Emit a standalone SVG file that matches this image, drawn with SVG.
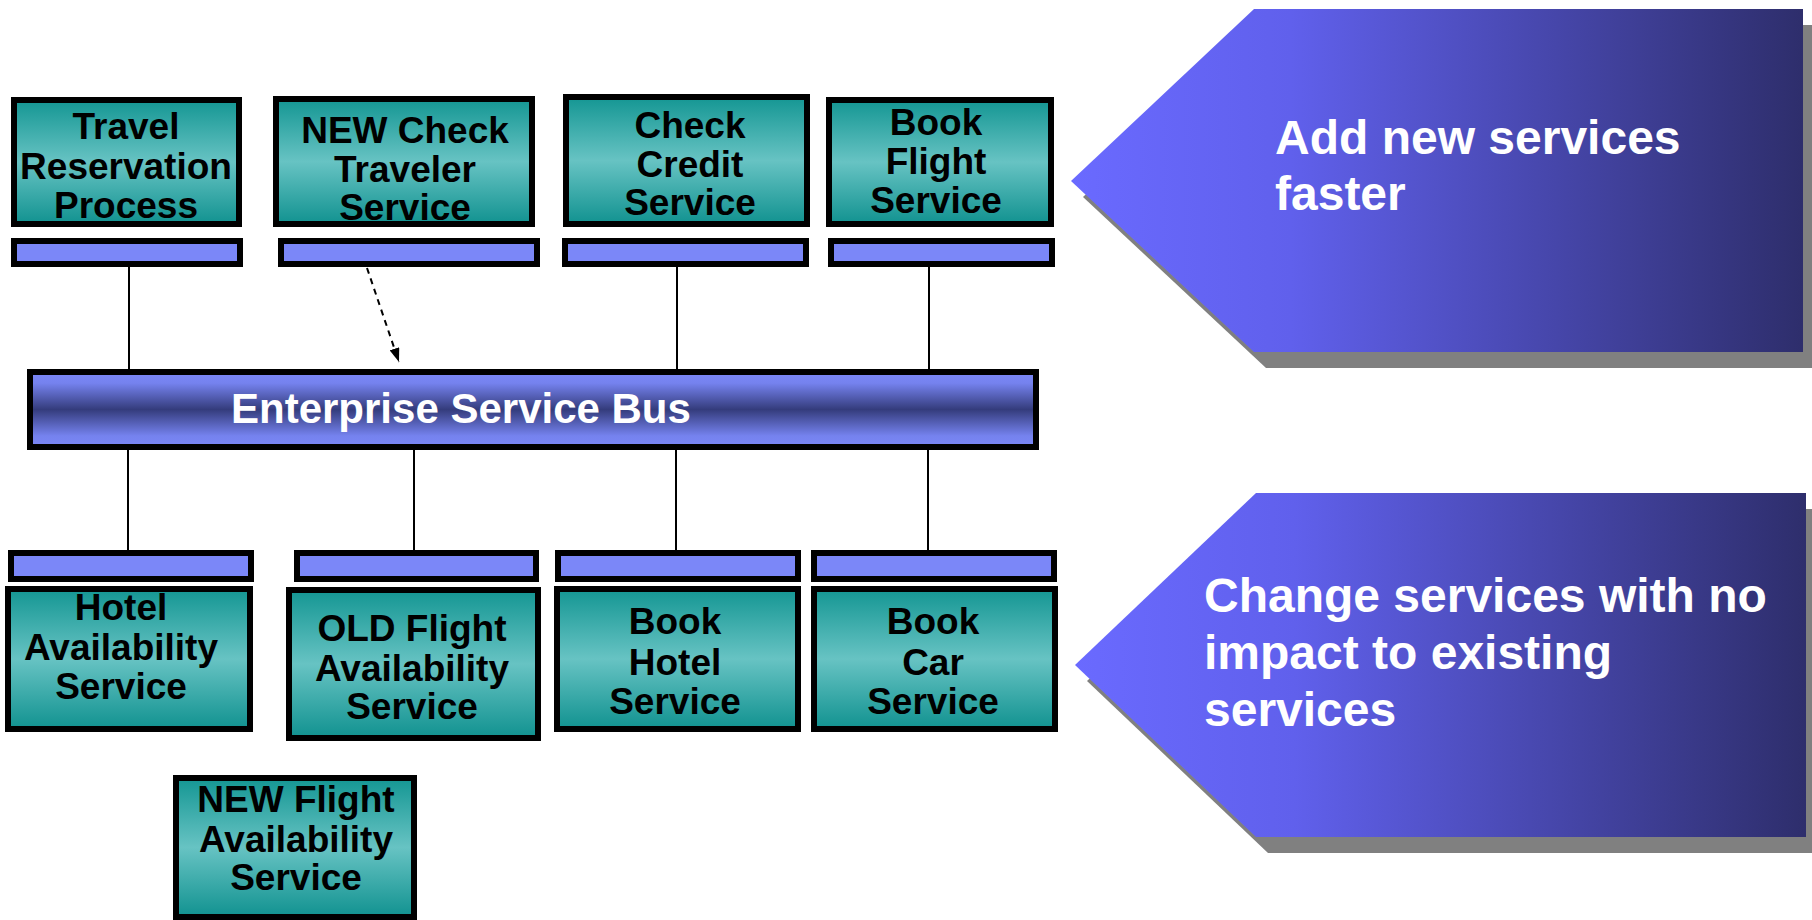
<svg xmlns="http://www.w3.org/2000/svg" width="1812" height="920" viewBox="0 0 1812 920">
<defs>
<linearGradient id="teal" x1="0" y1="0" x2="0" y2="1">
<stop offset="0" stop-color="#149693"/>
<stop offset="0.5" stop-color="#67C3C3"/>
<stop offset="1" stop-color="#119290"/>
</linearGradient>
<linearGradient id="esb" x1="0" y1="0" x2="0" y2="1">
<stop offset="0" stop-color="#7B87F7"/>
<stop offset="0.15" stop-color="#7582EE"/>
<stop offset="0.5" stop-color="#343C7C"/>
<stop offset="0.85" stop-color="#7582EE"/>
<stop offset="1" stop-color="#7B87F7"/>
</linearGradient>
<linearGradient id="arr" x1="0" y1="0" x2="1" y2="0">
<stop offset="0" stop-color="#6A6AFF"/>
<stop offset="0.3" stop-color="#6060EC"/>
<stop offset="1" stop-color="#2E2E6C"/>
</linearGradient>
<marker id="ah" viewBox="0 0 14 10" refX="14" refY="5" markerWidth="14" markerHeight="10" markerUnits="userSpaceOnUse" orient="auto">
<path d="M0,0 L14,5 L0,10 z" fill="#000"/>
</marker>
<style>
.box{fill:url(#teal);stroke:none}
.frame{fill:none;stroke:#000;stroke-width:6}
.bar{fill:#7B87F8;stroke:#000;stroke-width:6}
.lbl{font-family:"Liberation Sans",Arial,sans-serif;font-weight:bold;font-size:37px;fill:#000;text-anchor:middle}
.wt{font-family:"Liberation Sans",Arial,sans-serif;font-weight:bold;font-size:48px;fill:#fff}
.ln{stroke:#000;stroke-width:2;fill:none}
.dash{stroke:#000;stroke-width:2;fill:none;stroke-dasharray:6 5}
.shadow{fill:#808080}
</style>
</defs>
<rect x="0" y="0" width="1812" height="920" fill="#fff"/>

<g id="connectors">
<line class="ln" x1="129" y1="267" x2="129" y2="369"/>
<line class="ln" x1="677" y1="267" x2="677" y2="369"/>
<line class="ln" x1="929" y1="267" x2="929" y2="369"/>
<line class="dash" x1="367" y1="268" x2="399" y2="362" marker-end="url(#ah)"/>
<line class="ln" x1="128" y1="450" x2="128" y2="550"/>
<line class="ln" x1="414" y1="450" x2="414" y2="550"/>
<line class="ln" x1="676" y1="450" x2="676" y2="550"/>
<line class="ln" x1="928" y1="450" x2="928" y2="550"/>
</g>

<g id="travel-reservation">
<rect class="box" x="14" y="100" width="225" height="124"/>
<text class="lbl"><tspan x="126" y="139">Travel</tspan><tspan x="126" y="179">Reservation</tspan><tspan x="126" y="218">Process</tspan></text>
<rect class="frame" x="14" y="100" width="225" height="124"/>
<rect class="bar" x="14" y="241" width="226" height="23"/>
</g>

<g id="new-check-traveler">
<rect class="box" x="276" y="99" width="256" height="125"/>
<text class="lbl"><tspan x="405" y="143">NEW Check</tspan><tspan x="405" y="182">Traveler</tspan><tspan x="405" y="220">Service</tspan></text>
<rect class="frame" x="276" y="99" width="256" height="125"/>
<rect class="bar" x="281" y="241" width="256" height="23"/>
</g>

<g id="check-credit">
<rect class="box" x="566" y="97" width="241" height="127"/>
<text class="lbl"><tspan x="690" y="138">Check</tspan><tspan x="690" y="177">Credit</tspan><tspan x="690" y="215">Service</tspan></text>
<rect class="frame" x="566" y="97" width="241" height="127"/>
<rect class="bar" x="565" y="241" width="241" height="23"/>
</g>

<g id="book-flight">
<rect class="box" x="829" y="100" width="222" height="124"/>
<text class="lbl"><tspan x="936" y="135">Book</tspan><tspan x="936" y="174">Flight</tspan><tspan x="936" y="213">Service</tspan></text>
<rect class="frame" x="829" y="100" width="222" height="124"/>
<rect class="bar" x="831" y="241" width="221" height="23"/>
</g>

<g id="esb-node">
<rect x="30" y="372" width="1006" height="75" fill="url(#esb)" stroke="#000" stroke-width="6"/>
<text class="wt" x="231" y="423" style="font-size:42px">Enterprise Service Bus</text>
</g>

<g id="hotel-availability">
<rect class="bar" x="11" y="553" width="240" height="26"/>
<rect class="box" x="8" y="589" width="242" height="140"/>
<text class="lbl"><tspan x="121" y="620">Hotel</tspan><tspan x="121" y="660">Availability</tspan><tspan x="121" y="699">Service</tspan></text>
<rect class="frame" x="8" y="589" width="242" height="140"/>
</g>

<g id="old-flight-availability">
<rect class="bar" x="297" y="553" width="239" height="26"/>
<rect class="box" x="289" y="590" width="249" height="148"/>
<text class="lbl"><tspan x="412" y="641">OLD Flight</tspan><tspan x="412" y="681">Availability</tspan><tspan x="412" y="719">Service</tspan></text>
<rect class="frame" x="289" y="590" width="249" height="148"/>
</g>

<g id="book-hotel">
<rect class="bar" x="558" y="553" width="240" height="26"/>
<rect class="box" x="557" y="589" width="241" height="140"/>
<text class="lbl"><tspan x="675" y="634">Book</tspan><tspan x="675" y="675">Hotel</tspan><tspan x="675" y="714">Service</tspan></text>
<rect class="frame" x="557" y="589" width="241" height="140"/>
</g>

<g id="book-car">
<rect class="bar" x="814" y="553" width="240" height="26"/>
<rect class="box" x="814" y="589" width="241" height="140"/>
<text class="lbl"><tspan x="933" y="634">Book</tspan><tspan x="933" y="675">Car</tspan><tspan x="933" y="714">Service</tspan></text>
<rect class="frame" x="814" y="589" width="241" height="140"/>
</g>

<g id="new-flight-availability">
<rect class="box" x="176" y="778" width="238" height="139"/>
<text class="lbl"><tspan x="296" y="812">NEW Flight</tspan><tspan x="296" y="852">Availability</tspan><tspan x="296" y="890">Service</tspan></text>
<rect class="frame" x="176" y="778" width="238" height="139"/>
</g>

<g id="add-new-services">
<polygon class="shadow" points="1083,197 1266,25 1815,25 1815,368 1266,368"/>
<polygon points="1071,181 1254,9 1803,9 1803,352 1254,352" fill="url(#arr)"/>
<text class="wt"><tspan x="1275" y="154">Add new services</tspan><tspan x="1275" y="210">faster</tspan></text>
</g>

<g id="change-services">
<polygon class="shadow" points="1087,681 1268,509 1818,509 1818,853 1268,853"/>
<polygon points="1075,665 1256,493 1806,493 1806,837 1256,837" fill="url(#arr)"/>
<text class="wt"><tspan x="1204" y="612">Change services with no</tspan><tspan x="1204" y="669">impact to existing</tspan><tspan x="1204" y="726">services</tspan></text>
</g>
</svg>
